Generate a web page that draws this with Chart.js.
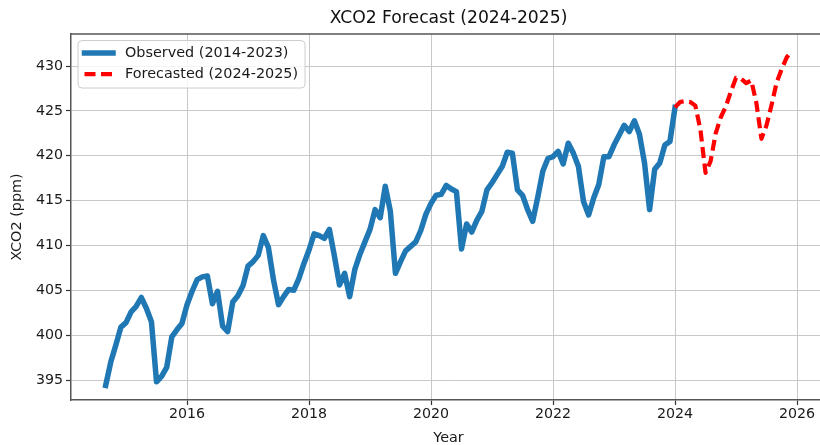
<!DOCTYPE html>
<html>
<head>
<meta charset="utf-8">
<title>XCO2 Forecast (2024-2025)</title>
<script src="https://cdn.jsdelivr.net/npm/chart.js@4.4.1/dist/chart.umd.min.js"></script>
<style>
  html, body { margin: 0; padding: 0; overflow: hidden; background: #ffffff; }
  #wrap { width: 830px; height: 445px; }
</style>
</head>
<body>
<div id="wrap"><canvas id="chart" width="830" height="445"></canvas></div>
<script>
// Monthly XCO2 (ppm), observed series starting September 2014
const observedStart = { year: 2014, month: 9 };
const observed = [
  394.4, 397.0, 398.9, 400.9,                                                        // 2014 Sep-Dec
  401.4, 402.6, 403.2, 404.2, 403.0, 401.5, 394.8, 395.4, 396.4, 399.8, 400.6, 401.3, // 2015
  403.4, 404.9, 406.2, 406.5, 406.6, 403.5, 404.9, 401.0, 400.4, 403.7, 404.4, 405.5, // 2016
  407.7, 408.2, 408.9, 411.1, 409.8, 406.2, 403.4, 404.3, 405.1, 405.0, 406.3, 408.0, // 2017
  409.5, 411.3, 411.1, 410.8, 411.8, 408.8, 405.6, 406.9, 404.3, 407.3, 409.0, 410.4, // 2018
  411.8, 414.0, 413.1, 416.6, 413.8, 406.9, 408.2, 409.4, 409.9, 410.4, 411.7, 413.5, // 2019
  414.7, 415.6, 415.7, 416.7, 416.3, 416.0, 409.6, 412.4, 411.5, 412.8, 413.8, 416.2, // 2020
  417.0, 417.9, 418.8, 420.4, 420.3, 416.2, 415.6, 414.0, 412.7, 415.4, 418.3, 419.7, // 2021
  419.9, 420.5, 419.1, 421.4, 420.3, 418.8, 414.9, 413.4, 415.3, 416.8, 419.9, 419.9, // 2022
  421.2, 422.3, 423.4, 422.7, 423.9, 422.4, 419.2, 414.0, 418.5, 419.2, 421.2, 421.6, // 2023
  425.4                                                                              // 2024 Jan
];

// Monthly forecast (ppm), January 2024 - December 2025
const forecastStart = { year: 2024, month: 1 };
const forecast = [
  425.4, 426.0, 426.1, 426.0, 425.6, 422.9, 418.1, 419.4, 422.5, 424.3, 425.5, 427.2, // 2024
  428.7, 428.6, 428.1, 428.4, 425.9, 421.9, 423.4, 425.7, 428.2, 429.7, 431.0, 431.7  // 2025
];

const xTicks = [2016, 2018, 2020, 2022, 2024, 2026];
const yTicks = [395, 400, 405, 410, 415, 420, 425, 430];
const seriesNames = ['Observed (2014-2023)', 'Forecasted (2024-2025)'];
const titleText = 'XCO2 Forecast (2024-2025)';
const xTitle = 'Year';
const yTitle = 'XCO2 (ppm)';

// month index -> decimal year
function toPoints(start, values) {
  return values.map((v, i) => ({ x: start.year + (start.month - 1 + i) / 12, y: v }));
}

const FONT = "'DejaVu Sans', 'Liberation Sans', sans-serif";
Chart.defaults.font.family = FONT;
Chart.defaults.color = '#1a1a1a';

// top spine and the boxed legend in the upper-left corner
const frameAndLegend = {
  id: 'frameAndLegend',
  afterDraw(chart) {
    const { ctx, chartArea: a } = chart;
    ctx.save();
    ctx.strokeStyle = '#555555';
    ctx.lineWidth = 1.5;
    ctx.beginPath();
    ctx.moveTo(a.left, a.top);
    ctx.lineTo(a.right + 10, a.top);
    ctx.stroke();

    // legend frame
    const bx = a.left + 7, by = a.top + 6.5, bw = 227, bh = 47.5, r = 4;
    ctx.beginPath();
    ctx.moveTo(bx + r, by);
    ctx.arcTo(bx + bw, by, bx + bw, by + bh, r);
    ctx.arcTo(bx + bw, by + bh, bx, by + bh, r);
    ctx.arcTo(bx, by + bh, bx, by, r);
    ctx.arcTo(bx, by, bx + bw, by, r);
    ctx.closePath();
    ctx.fillStyle = 'rgba(255,255,255,0.8)';
    ctx.fill();
    ctx.strokeStyle = '#cccccc';
    ctx.lineWidth = 1;
    ctx.stroke();

    const rows = [by + 12.5, by + 33.5];
    chart.data.datasets.forEach((ds, i) => {
      const y = rows[i];
      ctx.beginPath();
      ctx.strokeStyle = ds.borderColor;
      ctx.lineWidth = ds.borderWidth;
      ctx.lineCap = ds.borderCapStyle || 'butt';
      ctx.setLineDash(ds.borderDash || []);
      ctx.moveTo(bx + 6.5, y);
      ctx.lineTo(bx + 35, y);
      ctx.stroke();
      ctx.setLineDash([]);
      ctx.fillStyle = '#1a1a1a';
      ctx.font = '14.4px ' + FONT;
      ctx.textAlign = 'left';
      ctx.textBaseline = 'middle';
      ctx.fillText(ds.label, bx + 47, y + 0.5);
    });
    ctx.restore();
  }
};

new Chart(document.getElementById('chart'), {
  type: 'line',
  data: {
    datasets: [
      {
        label: seriesNames[0],
        data: toPoints(observedStart, observed),
        borderColor: '#1f77b4',
        borderWidth: 5.5,
        borderCapStyle: 'square',
        borderJoinStyle: 'round',
        pointRadius: 0,
        tension: 0,
        fill: false,
        order: 2
      },
      {
        label: seriesNames[1],
        data: toPoints(forecastStart, forecast),
        borderColor: '#ff0000',
        borderWidth: 4.2,
        borderDash: [11, 5.5],
        borderCapStyle: 'butt',
        borderJoinStyle: 'round',
        pointRadius: 0,
        tension: 0,
        fill: false,
        order: 1
      }
    ]
  },
  options: {
    responsive: false,
    animation: false,
    devicePixelRatio: 1,
    layout: { padding: { left: 0, right: 4, top: 0, bottom: 0 } },
    plugins: {
      legend: { display: false },
      tooltip: { enabled: false },
      title: {
        display: true,
        text: titleText,
        fullSize: false,
        color: '#111111',
        font: { size: 17.2, weight: 'normal', family: FONT },
        padding: { top: 8, bottom: 5.4 }
      }
    },
    scales: {
      x: {
        type: 'linear',
        min: 2014.098,
        max: 2026.475,
        afterBuildTicks: (s) => { s.ticks = xTicks.map(v => ({ value: v })); },
        afterFit: (s) => { s.height = 45; },
        ticks: {
          font: { size: 14.2 },
          padding: 1,
          maxRotation: 0,
          callback: (v) => String(v)
        },
        grid: {
          color: '#c8c8c8',
          lineWidth: 1,
          tickLength: 5,
          tickColor: '#333333',
          tickWidth: 1.2
        },
        border: { display: true, color: '#555555', width: 1.5 },
        title: {
          display: true,
          text: xTitle,
          font: { size: 14.4 },
          color: '#1a1a1a',
          padding: { top: 0, bottom: -2 }
        }
      },
      y: {
        type: 'linear',
        min: 392.77,
        max: 433.58,
        afterBuildTicks: (s) => { s.ticks = yTicks.map(v => ({ value: v })); },
        afterFit: (s) => { s.width = 71; },
        ticks: {
          font: { size: 14.2 },
          padding: 3,
          callback: (v) => String(v)
        },
        grid: {
          color: '#c8c8c8',
          lineWidth: 1,
          tickLength: 5,
          tickColor: '#333333',
          tickWidth: 1.2
        },
        border: { display: true, color: '#555555', width: 1.5 },
        title: {
          display: true,
          text: yTitle,
          font: { size: 14.4 },
          color: '#1a1a1a',
          padding: { top: 8.4, bottom: 0 }
        }
      }
    }
  },
  plugins: [frameAndLegend]
});
</script>
</body>
</html>
